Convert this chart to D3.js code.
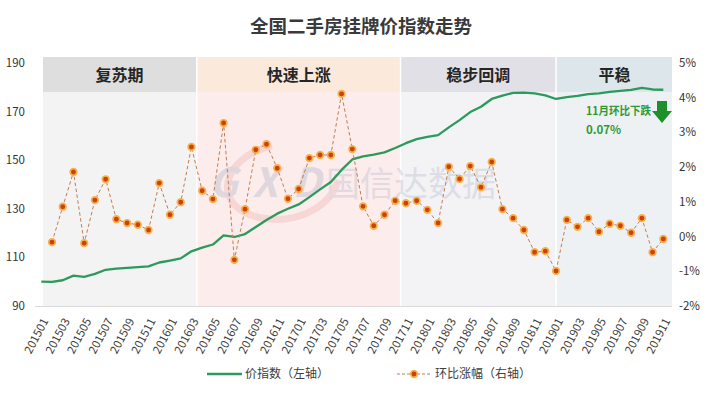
<!DOCTYPE html>
<html>
<head>
<meta charset="utf-8">
<script src="https://cdn.jsdelivr.net/npm/d3@7"></script>
<style>
  html, body { margin: 0; padding: 0; background: #ffffff; }
  svg { display: block; font-family: "Noto Sans CJK SC", "Noto Sans", sans-serif; }
</style>
</head>
<body>
<svg id="chart" width="709" height="399"></svg>
<script>
// ---------- data ----------
const months = [
  "201501","201502","201503","201504","201505","201506","201507","201508","201509","201510","201511","201512",
  "201601","201602","201603","201604","201605","201606","201607","201608","201609","201610","201611","201612",
  "201701","201702","201703","201704","201705","201706","201707","201708","201709","201710","201711","201712",
  "201801","201802","201803","201804","201805","201806","201807","201808","201809","201810","201811","201812",
  "201901","201902","201903","201904","201905","201906","201907","201908","201909","201910","201911"
];
// 价指数 (left axis)
const priceIndex = [
  100.0, 99.9, 100.6, 102.5, 102.0, 103.2, 104.9, 105.4, 105.7, 106.0, 106.3, 107.9,
  108.7, 109.6, 112.5, 114.0, 115.3, 119.1, 118.4, 119.6, 122.5, 125.4, 128.0, 130.0,
  131.8, 134.8, 138.0, 141.0, 146.0, 150.3, 151.6, 152.3, 153.2, 155.0, 157.0, 158.7,
  159.6, 160.3, 163.5, 166.5, 169.8, 172.0, 175.2, 176.6, 177.7, 177.8, 177.5, 176.7,
  175.2, 176.0, 176.5, 177.2, 177.5, 178.1, 178.5, 178.9, 179.8, 179.1, 179.0
];
// 环比涨幅 (right axis, %), starts 201502
const momChange = [
  null, -0.16, 0.86, 1.86, -0.19, 1.05, 1.65, 0.50, 0.39, 0.34, 0.19, 1.54,
  0.63, 0.99, 2.58, 1.32, 1.08, 3.27, -0.67, 0.79, 2.50, 2.66, 1.97, 1.09,
  1.37, 2.26, 2.35, 2.35, 4.11, 2.52, 0.87, 0.31, 0.63, 1.03, 0.96, 1.03,
  0.77, 0.39, 2.01, 1.66, 2.03, 1.42, 2.15, 0.79, 0.53, 0.19, -0.45, -0.42,
  -0.99, 0.48, 0.28, 0.53, 0.14, 0.37, 0.31, 0.11, 0.53, -0.45, -0.07
];
const leftTicks = [90, 110, 130, 150, 170, 190];
const rightTicks = [-2, -1, 0, 1, 2, 3, 4, 5];
const phaseNames = ["复苏期", "快速上涨", "稳步回调", "平稳"];
const phaseStart = ["201501", "201604", "201711", "201901"];
const phaseEnd   = ["201603", "201710", "201901", "201911"];
const phaseHeadColors = ["#dedede", "#fbeadb", "#e2e0e7", "#dde6ea"];
const phaseBodyColors = ["#f3f3f3", "#fcecec", "#f3f3f5", "#eef1f3"];
const titleText = "全国二手房挂牌价指数走势";
const legendNames = ["价指数（左轴）", "环比涨幅（右轴）"];
const watermarkText = "国信达数据";

// ---------- layout ----------
const svg = d3.select("#chart");
const plotTop = 63, plotBottom = 306;
const axisLeft = 35, axisRight = 672;
const bandLeft = 43, bandRight = 672;
const headTop = 57, headBottom = 92;

const x = d3.scalePoint().domain(months).range([41.3, 663.3]);
const yL = d3.scaleLinear().domain([90, 190]).range([plotBottom, plotTop]);
const yR = d3.scaleLinear().domain([-2, 5]).range([plotBottom, plotTop]);

// ---------- title ----------
svg.append("text")
  .attr("x", 361).attr("y", 33)
  .attr("text-anchor", "middle")
  .attr("font-size", 18.5).attr("font-weight", "bold")
  .attr("fill", "#3a3a3a")
  .text(titleText);

// ---------- phase bands ----------
function leftEdge(i) {
  if (i === 0) return bandLeft;
  const prevEnd = phaseEnd[i - 1], s = phaseStart[i];
  if (prevEnd === s) return x(s);
  return (x(prevEnd) + x(s)) / 2;
}
function rightEdge(i) {
  if (i === phaseNames.length - 1) return bandRight;
  return leftEdge(i + 1);
}
const bands = svg.append("g");
phaseNames.forEach((name, i) => {
  const x0 = leftEdge(i) + (i === 0 ? 0 : 0.75);
  const x1 = rightEdge(i) - (i === phaseNames.length - 1 ? 0 : 0.75);
  bands.append("rect")
    .attr("x", x0).attr("y", headBottom)
    .attr("width", x1 - x0).attr("height", plotBottom - headBottom)
    .attr("fill", phaseBodyColors[i]);
  bands.append("rect")
    .attr("x", x0).attr("y", headTop)
    .attr("width", x1 - x0).attr("height", headBottom - headTop)
    .attr("fill", phaseHeadColors[i]);
  bands.append("text")
    .attr("x", (x0 + x1) / 2).attr("y", (headTop + headBottom) / 2 + 6)
    .attr("text-anchor", "middle")
    .attr("font-size", 16).attr("font-weight", "bold")
    .attr("fill", "#262626")
    .text(name);
});

// ---------- watermark ----------
const wm = svg.append("g").attr("opacity", 0.42);
wm.append("path")
  .attr("d", "M 272 146 C 222 156 208 208 262 218 C 302 225 332 203 338 180")
  .attr("fill", "none").attr("stroke", "#f2b8b8").attr("stroke-width", 7);
wm.append("text")
  .attr("x", 209).attr("y", 197)
  .attr("font-size", 40).attr("font-weight", "bold").attr("font-style", "italic")
  .attr("fill", "#b7bccd")
  .attr("textLength", 112)
  .text("GXD");
wm.append("text")
  .attr("x", 326).attr("y", 196)
  .attr("font-size", 34)
  .attr("fill", "#bfc2d0")
  .text(watermarkText);

// ---------- axes ----------
svg.append("line")
  .attr("x1", axisLeft).attr("x2", axisRight)
  .attr("y1", plotBottom + 0.5).attr("y2", plotBottom + 0.5)
  .attr("stroke", "#d9d9d9").attr("stroke-width", 1);

const axisFont = 11.5;
svg.append("g").selectAll("text").data(leftTicks).join("text")
  .attr("x", 25).attr("y", d => yL(d))
  .attr("dy", "0.35em")
  .attr("text-anchor", "end")
  .attr("font-size", axisFont).attr("fill", "#333")
  .text(d => d);

svg.append("g").selectAll("text").data(rightTicks).join("text")
  .attr("x", 679).attr("y", d => yR(d))
  .attr("dy", "0.35em")
  .attr("text-anchor", "start")
  .attr("font-size", axisFont).attr("fill", "#333")
  .text(d => d + "%");

svg.append("g").selectAll("text")
  .data(months.filter((m, i) => i % 2 === 0)).join("text")
  .attr("transform", d => `translate(${x(d) + 4},${plotBottom + 13}) rotate(-62)`)
  .attr("dy", "0.35em")
  .attr("text-anchor", "end")
  .attr("font-size", 11.5).attr("fill", "#404040")
  .text(d => d);

// ---------- price index line ----------
const greenColor = "#2b9a5c";
const line = d3.line()
  .x((d, i) => x(months[i]))
  .y(d => yL(d));
svg.append("path")
  .datum(priceIndex)
  .attr("d", line)
  .attr("fill", "none")
  .attr("stroke", greenColor)
  .attr("stroke-width", 2.3)
  .attr("stroke-linejoin", "round");

// ---------- month-on-month dashed line with dots ----------
const momPoints = momChange.map((v, i) => ({ m: months[i], v })).filter(d => d.v !== null);
const dashColor = "#c27d52";
svg.append("path")
  .datum(momPoints)
  .attr("d", d3.line().x(d => x(d.m)).y(d => yR(d.v)))
  .attr("fill", "none")
  .attr("stroke", dashColor)
  .attr("stroke-width", 1)
  .attr("stroke-dasharray", "3.5,2.5");
svg.append("g").selectAll("circle").data(momPoints).join("circle")
  .attr("cx", d => x(d.m)).attr("cy", d => yR(d.v))
  .attr("r", 3.3)
  .attr("fill", "#c8440c")
  .attr("stroke", "#f9b04a")
  .attr("stroke-width", 1.7);

// ---------- annotation ----------
const lastVal = momChange[momChange.length - 1];
const lastMonth = months[months.length - 1];
const annColor = "#2f9a34";
svg.append("text")
  .attr("x", 586).attr("y", 115)
  .attr("font-size", 11).attr("font-weight", "bold")
  .attr("fill", annColor)
  .attr("textLength", 65).attr("lengthAdjust", "spacingAndGlyphs")
  .text(parseInt(lastMonth.slice(4)) + "月环比" + (lastVal < 0 ? "下跌" : "上涨"));
svg.append("text")
  .attr("x", 586).attr("y", 134)
  .attr("font-size", 11.5).attr("font-weight", "bold")
  .attr("fill", annColor)
  .text(Math.abs(lastVal).toFixed(2) + "%");
const ax = 662;
svg.append("path")
  .attr("d", `M ${ax - 5} 101 L ${ax + 5} 101 L ${ax + 5} 111 L ${ax + 10} 111 L ${ax} 123 L ${ax - 10} 111 L ${ax - 5} 111 Z`)
  .attr("fill", "#1f8f2a");

// ---------- legend ----------
const lg = svg.append("g");
lg.append("line")
  .attr("x1", 207).attr("x2", 242).attr("y1", 374).attr("y2", 374)
  .attr("stroke", greenColor).attr("stroke-width", 2.3);
lg.append("text")
  .attr("x", 245).attr("y", 374).attr("dy", "0.35em")
  .attr("font-size", 12).attr("fill", "#404040")
  .text(legendNames[0]);
lg.append("line")
  .attr("x1", 397).attr("x2", 431).attr("y1", 374).attr("y2", 374)
  .attr("stroke", dashColor).attr("stroke-width", 1).attr("stroke-dasharray", "3,2");
lg.append("circle")
  .attr("cx", 414).attr("cy", 374).attr("r", 3.3)
  .attr("fill", "#c8440c").attr("stroke", "#f9b04a").attr("stroke-width", 1.7);
lg.append("text")
  .attr("x", 435).attr("y", 374).attr("dy", "0.35em")
  .attr("font-size", 12).attr("fill", "#404040")
  .text(legendNames[1]);
</script>
</body>
</html>
